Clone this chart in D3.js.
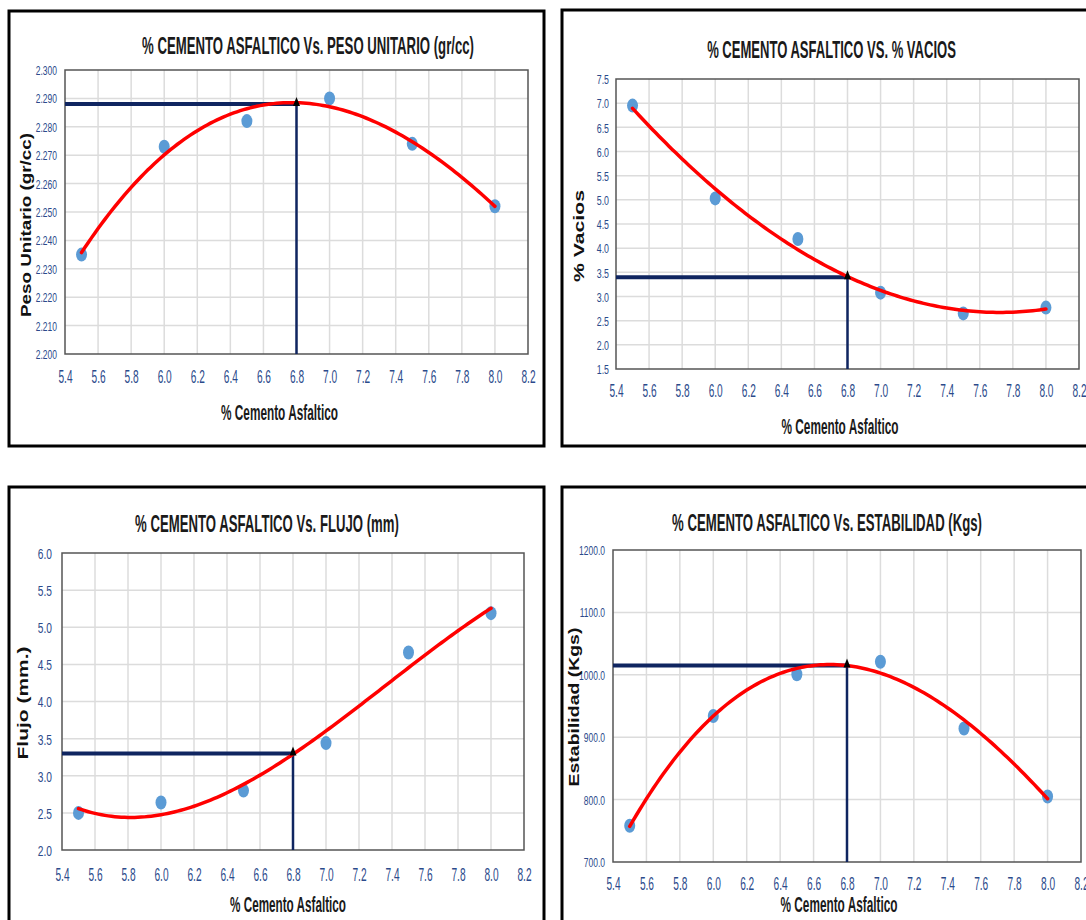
<!DOCTYPE html>
<html>
<head>
<meta charset="utf-8">
<script src="https://cdn.jsdelivr.net/npm/d3@7"></script>
<style>
  html, body { margin: 0; padding: 0; background: #ffffff; }
  svg { display: block; }
</style>
</head>
<body>
<svg id="chart" width="1086" height="920"></svg>
<script>
// Ensayo Marshall: % cemento asfáltico contra cuatro propiedades de la mezcla
const cementoAsfaltico = [5.5, 6.0, 6.5, 7.0, 7.5, 8.0];
const pesoUnitario = [2.235, 2.273, 2.282, 2.290, 2.274, 2.252];
const vacios = [6.95, 5.03, 4.19, 3.08, 2.65, 2.77];
const flujo = [2.50, 2.64, 2.80, 3.44, 4.66, 5.19];
const estabilidad = [758, 934, 1001, 1021, 914, 805];

// contenido óptimo de asfalto y lectura de cada propiedad
const optimoAsfalto = 6.8;
const lecturaOptima = [2.288, 3.4, 3.3, 1015];

const xTicks = [5.4, 5.6, 5.8, 6.0, 6.2, 6.4, 6.6, 6.8, 7.0, 7.2, 7.4, 7.6, 7.8, 8.0, 8.2];
const yTicksPeso = [2.200, 2.210, 2.220, 2.230, 2.240, 2.250, 2.260, 2.270, 2.280, 2.290, 2.300];
const yTicksVacios = [1.5, 2.0, 2.5, 3.0, 3.5, 4.0, 4.5, 5.0, 5.5, 6.0, 6.5, 7.0, 7.5];
const yTicksFlujo = [2.0, 2.5, 3.0, 3.5, 4.0, 4.5, 5.0, 5.5, 6.0];
const yTicksEstabilidad = [700, 800, 900, 1000, 1100, 1200];

const titulos = [
  "% CEMENTO ASFALTICO Vs. PESO UNITARIO (gr/cc)",
  "% CEMENTO ASFALTICO VS. % VACIOS",
  "% CEMENTO ASFALTICO Vs. FLUJO (mm)",
  "% CEMENTO ASFALTICO Vs. ESTABILIDAD (Kgs)"
];
const titulosY = ["Peso Unitario (gr/cc)", "% Vacios", "Flujo (mm.)", "Estabilidad (Kgs)"];
const tituloX = "% Cemento Asfaltico";

// layout of each framed chart
const paneles = [
  { values: pesoUnitario, yTicks: yTicksPeso, yFmt: ".3f",
    frame: [9, 11, 544, 446], plot: [65, 70, 528, 354],
    title: [142, 474, 45], xTitle: [279.5, 413, 117], yTitle: [26, 225, 184],
    xLabelOff: 23, yLabelGap: 8, yFont: 12.5 },
  { values: vacios, yTicks: yTicksVacios, yFmt: ".1f",
    frame: [562, 10, 1100, 446], plot: [616, 79, 1079, 369],
    title: [707, 956, 50], xTitle: [840, 427, 117], yTitle: [578.5, 236, 92],
    xLabelOff: 21.5, yLabelGap: 7, yFont: 13 },
  { values: flujo, yTicks: yTicksFlujo, yFmt: ".1f",
    frame: [9, 487, 544, 940], plot: [62, 553, 524, 850],
    title: [135, 399, 523.5], xTitle: [288, 905, 116], yTitle: [23, 703, 113],
    xLabelOff: 24.5, yLabelGap: 10, yFont: 15 },
  { values: estabilidad, yTicks: yTicksEstabilidad, yFmt: ".1f",
    frame: [562, 487, 1100, 940], plot: [613, 550, 1081, 862],
    title: [672, 982, 522], xTitle: [839, 905, 117], yTitle: [574, 707, 159],
    xLabelOff: 21.5, yLabelGap: 8, yFont: 12.5 }
];

// least-squares polynomial (Excel-style polynomial trendline)
function ajustePolinomico(xs, ys, grado, centro) {
  const n = grado + 1;
  const A = Array.from({ length: n }, () => new Array(n + 1).fill(0));
  xs.forEach((xv, k) => {
    const t = xv - centro;
    for (let i = 0; i < n; i++) {
      for (let j = 0; j < n; j++) A[i][j] += Math.pow(t, i + j);
      A[i][n] += ys[k] * Math.pow(t, i);
    }
  });
  for (let c = 0; c < n; c++) {
    let piv = c;
    for (let r = c + 1; r < n; r++) if (Math.abs(A[r][c]) > Math.abs(A[piv][c])) piv = r;
    [A[c], A[piv]] = [A[piv], A[c]];
    for (let r = 0; r < n; r++) {
      if (r === c) continue;
      const f = A[r][c] / A[c][c];
      for (let k = c; k <= n; k++) A[r][k] -= f * A[c][k];
    }
  }
  const coef = A.map((row, i) => row[n] / row[i]);
  return xv => coef.reduce((s, a, i) => s + a * Math.pow(xv - centro, i), 0);
}

const svg = d3.select("#chart");
const FONT = "'Liberation Sans', Arial, sans-serif";
const FONT_NARROW = "'Liberation Sans Narrow', 'Liberation Sans', Arial, sans-serif";
const AZUL_TEXTO = "#2B4A8B";
const MARINO = "#0F2560";
const XSX = 0.58, YSX = 0.68;

// text squeezed (or stretched) along its run to a given length, centred at (cx, cy)
function textoAjustado(parent, str, cx, cy, largo, angulo, fam, size, color) {
  const t = parent.append("text")
    .attr("dominant-baseline", "central").attr("text-anchor", "middle")
    .attr("font-family", fam).attr("font-weight", "bold").attr("font-size", size)
    .attr("fill", color)
    .text(str);
  const natural = t.node().getComputedTextLength() || largo;
  t.attr("transform", `translate(${cx},${cy}) rotate(${angulo}) scale(${largo / natural},1)`);
  return t;
}

paneles.forEach((p, idx) => {
  const g = svg.append("g");
  const [px0, py0, px1, py1] = p.plot;

  // outer frame
  g.append("rect")
    .attr("x", p.frame[0]).attr("y", p.frame[1])
    .attr("width", p.frame[2] - p.frame[0]).attr("height", p.frame[3] - p.frame[1])
    .attr("fill", "#ffffff").attr("stroke", "#000000").attr("stroke-width", 3);

  const x = d3.scaleLinear().domain([xTicks[0], xTicks[xTicks.length - 1]]).range([px0, px1]);
  const y = d3.scaleLinear().domain([p.yTicks[0], p.yTicks[p.yTicks.length - 1]]).range([py1, py0]);

  // grid
  g.append("g").selectAll("line").data(xTicks.slice(1, -1)).join("line")
    .attr("x1", d => x(d)).attr("x2", d => x(d)).attr("y1", py0).attr("y2", py1)
    .attr("stroke", "#DCDCDC").attr("stroke-width", 1.5);
  g.append("g").selectAll("line").data(p.yTicks.slice(1, -1)).join("line")
    .attr("y1", d => y(d)).attr("y2", d => y(d)).attr("x1", px0).attr("x2", px1)
    .attr("stroke", "#DCDCDC").attr("stroke-width", 1.5);

  g.append("rect")
    .attr("x", px0).attr("y", py0).attr("width", px1 - px0).attr("height", py1 - py0)
    .attr("fill", "none").attr("stroke", "#555555").attr("stroke-width", 1.5);

  // x axis labels
  const ax = g.append("g").attr("transform", `translate(0,${py1})`)
    .call(d3.axisBottom(x).tickValues(xTicks).tickSize(0).tickFormat(d3.format(".1f")));
  ax.select(".domain").remove();
  ax.attr("font-family", FONT);
  ax.selectAll("text")
    .attr("y", p.xLabelOff).attr("dy", "0.36em")
    .attr("transform", `scale(${XSX},1)`)
    .attr("font-size", 17.5).attr("fill", AZUL_TEXTO);

  // y axis labels
  const ay = g.append("g").attr("transform", `translate(${px0},0)`)
    .call(d3.axisLeft(y).tickValues(p.yTicks).tickSize(0).tickFormat(d3.format(p.yFmt)));
  ay.select(".domain").remove();
  ay.attr("font-family", FONT);
  ay.selectAll("text")
    .attr("x", -p.yLabelGap / YSX).attr("dy", "0.36em")
    .attr("text-anchor", "end")
    .attr("transform", `scale(${YSX},1)`)
    .attr("font-size", p.yFont).attr("fill", AZUL_TEXTO);

  // measured points
  g.append("g").selectAll("ellipse").data(cementoAsfaltico).join("ellipse")
    .attr("cx", d => x(d)).attr("cy", (d, i) => y(p.values[i]))
    .attr("rx", 5.5).attr("ry", 7).attr("fill", "#5B9BD5");

  // optimum reading
  const yo = y(lecturaOptima[idx]);
  const xo = x(optimoAsfalto);
  g.append("line").attr("x1", px0).attr("x2", xo).attr("y1", yo).attr("y2", yo)
    .attr("stroke", MARINO).attr("stroke-width", 4);
  g.append("line").attr("x1", xo).attr("x2", xo).attr("y1", yo).attr("y2", py1)
    .attr("stroke", MARINO).attr("stroke-width", 2.5);

  // trendline
  const f = ajustePolinomico(cementoAsfaltico, p.values, 3, 6.75);
  const xs = d3.range(0, 126).map(i => 5.5 + i * 0.02);
  g.append("path")
    .datum(xs)
    .attr("d", d3.line().x(d => x(d)).y(d => y(f(d))))
    .attr("fill", "none").attr("stroke", "#FF0000").attr("stroke-width", 3.5)
    .attr("stroke-linejoin", "round").attr("stroke-linecap", "round");

  // arrow tip at the optimum
  g.append("path")
    .attr("d", `M${xo},${yo - 7} L${xo + 3.5},${yo + 2} L${xo - 3.5},${yo + 2} Z`)
    .attr("fill", "#000000");

  // titles
  textoAjustado(g, titulos[idx], (p.title[0] + p.title[1]) / 2, p.title[2],
    p.title[1] - p.title[0], 0, FONT_NARROW, 24, "#1A1A1A");
  textoAjustado(g, tituloX, p.xTitle[0], p.xTitle[1], p.xTitle[2], 0, FONT_NARROW, 22, "#1A1A1A");
  textoAjustado(g, titulosY[idx], p.yTitle[0], p.yTitle[1], p.yTitle[2], -90, FONT, 15, "#111111");
});
</script>
</body>
</html>
